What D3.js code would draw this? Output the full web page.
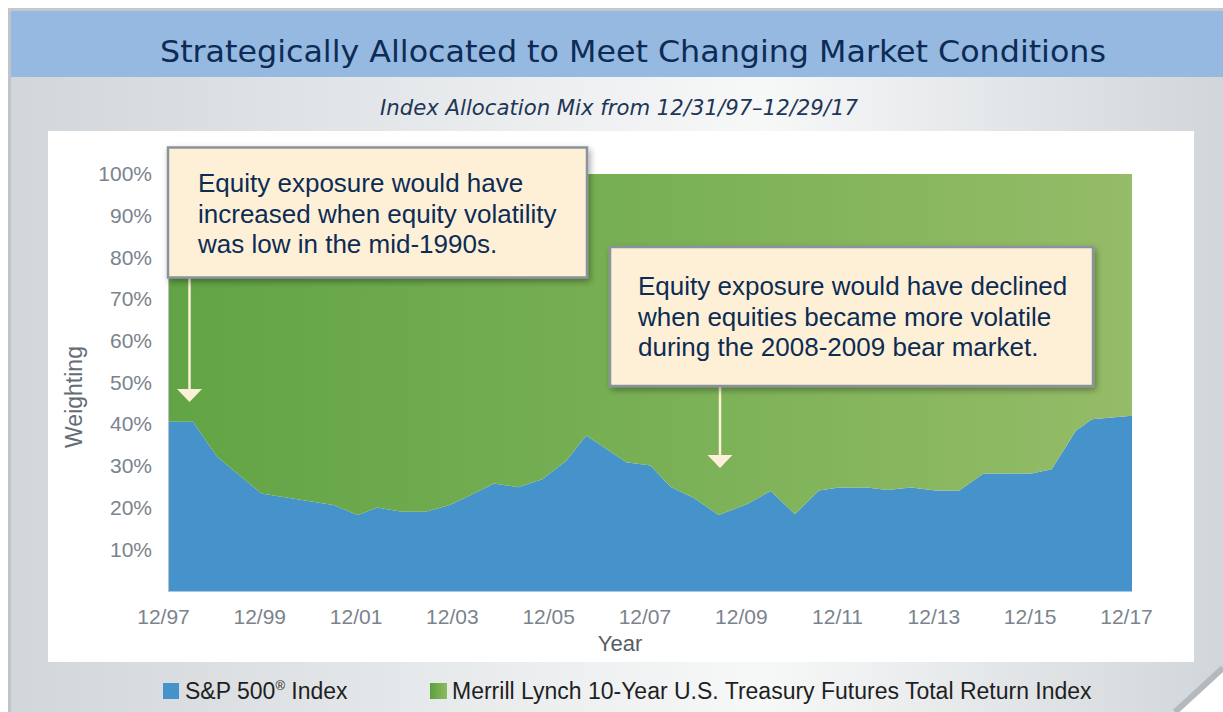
<!DOCTYPE html>
<html>
<head>
<meta charset="utf-8">
<script src="https://cdn.jsdelivr.net/npm/d3@7"></script>
<style>
  body { margin: 0; background: #fff; }
  svg { display: block; }
  .tick text { font-family: "Liberation Sans", Arial, sans-serif; }
</style>
</head>
<body>
<svg width="1223" height="712"></svg>
<script>
// allocation data (semi-annual-ish points)
var dates = ["1997-12","1998-06","1998-12","1999-11","2001-05","2001-11","2002-04","2002-10","2003-04","2003-10",
             "2004-04","2004-09","2005-03","2005-09","2006-03","2006-08","2007-06","2007-12","2008-05","2008-11",
             "2009-05","2009-12","2010-06","2010-12","2011-06","2011-11","2012-06","2012-11","2013-05","2013-11",
             "2014-05","2014-11","2015-11","2016-04","2016-10","2017-02","2017-12"];
var spWeights = [40.6,40.6,32.2,23.4,20.6,18.2,20.0,19.0,19.0,20.6,
                 23.4,25.8,24.9,26.8,31.2,37.3,30.9,30.1,25.0,22.2,
                 18.2,20.8,24.0,18.4,24.1,24.8,24.8,24.2,24.8,24.1,
                 24.1,28.2,28.2,29.2,38.4,41.2,42.0];
var tsyWeights = [59.4,59.4,67.8,76.6,79.4,81.8,80.0,81.0,81.0,79.4,
                  76.6,74.2,75.1,73.2,68.8,62.7,69.1,69.9,75.0,77.8,
                  81.8,79.2,76.0,81.6,75.9,75.2,75.2,75.8,75.2,75.9,
                  75.9,71.8,71.8,70.8,61.6,58.8,58.0];
var xTickLabels = ["12/97","12/99","12/01","12/03","12/05","12/07","12/09","12/11","12/13","12/15","12/17"];
var yTickValues = [10,20,30,40,50,60,70,80,90,100];
var seriesNames = ["S&P 500", "Merrill Lynch 10-Year U.S. Treasury Futures Total Return Index"];

var svg = d3.select("svg"),
    plot = {left: 169, right: 1132, top: 174, bottom: 591},
    textFont = '"Liberation Sans", Arial, sans-serif',
    condFont = '"DejaVu Sans Condensed", "DejaVu Sans", sans-serif';

var parseMonth = d3.timeParse("%Y-%m"),
    parseTick = d3.timeParse("%m/%y");

var data = dates.map(function(d, i) {
  return {date: parseMonth(d), sp: spWeights[i], tsy: tsyWeights[i]};
});

var defs = svg.append("defs");

var bg = defs.append("linearGradient").attr("id", "bgGrad");
bg.append("stop").attr("offset", "0%").attr("stop-color", "#d1d6da");
bg.append("stop").attr("offset", "62%").attr("stop-color", "#f7f8f8");
bg.append("stop").attr("offset", "100%").attr("stop-color", "#d1d6da");

var gg = defs.append("linearGradient").attr("id", "greenGrad");
gg.append("stop").attr("offset", "0%").attr("stop-color", "#62a445");
gg.append("stop").attr("offset", "50%").attr("stop-color", "#79b055");
gg.append("stop").attr("offset", "100%").attr("stop-color", "#95bc68");

var lg = defs.append("linearGradient").attr("id", "legGreen");
lg.append("stop").attr("offset", "0%").attr("stop-color", "#5c9f3e");
lg.append("stop").attr("offset", "100%").attr("stop-color", "#8dbb5e");

var shadow = defs.append("filter").attr("id", "shadow")
    .attr("x", "-10%").attr("y", "-10%").attr("width", "130%").attr("height", "140%");
shadow.append("feDropShadow").attr("dx", 2).attr("dy", 3).attr("stdDeviation", 3)
    .attr("flood-color", "#000").attr("flood-opacity", 0.35);

// frame
svg.append("path")
    .attr("d", "M8,8 L1223,8 L1223,672 L1178,712 L8,712 Z")
    .attr("fill", "url(#bgGrad)");
svg.append("path")
    .attr("d", "M1223,668 L1175,712")
    .attr("stroke", "#b4b9be").attr("stroke-width", 6).attr("fill", "none");
svg.append("rect").attr("x", 8).attr("y", 8).attr("width", 3).attr("height", 704).attr("fill", "#bfc4c9");
svg.append("rect").attr("x", 8).attr("y", 8).attr("width", 1215).attr("height", 3).attr("fill", "#c3c8cc");
svg.append("rect").attr("x", 11).attr("y", 11).attr("width", 1212).attr("height", 66).attr("fill", "#95b9e1");

svg.append("text")
    .attr("x", 633).attr("y", 62)
    .attr("text-anchor", "middle")
    .attr("textLength", 946).attr("lengthAdjust", "spacingAndGlyphs")
    .style("font-family", condFont).style("font-size", "30px")
    .attr("fill", "#0d2b55")
    .text("Strategically Allocated to Meet Changing Market Conditions");

svg.append("text")
    .attr("x", 619).attr("y", 115)
    .attr("text-anchor", "middle")
    .attr("textLength", 478).attr("lengthAdjust", "spacingAndGlyphs")
    .style("font-family", condFont).style("font-size", "21px").style("font-style", "italic")
    .attr("fill", "#1e3658")
    .text("Index Allocation Mix from 12/31/97\u201312/29/17");

svg.append("rect").attr("x", 48).attr("y", 131).attr("width", 1146).attr("height", 531).attr("fill", "#fff");

// scales
var x = d3.scaleTime()
    .domain([parseMonth("1997-12"), parseMonth("2017-12")])
    .range([plot.left, plot.right]);
var y = d3.scaleLinear().domain([0, 100]).range([plot.bottom, plot.top]);

var stack = d3.stack().keys(["sp", "tsy"]);
var layers = stack(data);
var fills = ["#4593ca", "url(#greenGrad)"];

var area = d3.area()
    .x(function(d) { return x(d.data.date); })
    .y0(function(d) { return y(d[0]); })
    .y1(function(d) { return y(d[1]); });

svg.selectAll(".layer")
    .data(layers)
    .enter().append("path")
    .attr("class", "layer")
    .attr("d", area)
    .attr("fill", function(d, i) { return fills[i]; });

// axis lines
svg.append("line").attr("x1", plot.left - 0.5).attr("x2", plot.left - 0.5)
    .attr("y1", plot.top - 20).attr("y2", plot.bottom + 1)
    .attr("stroke", "#b9c0c6").attr("stroke-width", 1);
svg.append("line").attr("x1", plot.left).attr("x2", plot.right)
    .attr("y1", plot.bottom + 0.5).attr("y2", plot.bottom + 0.5)
    .attr("stroke", "#a9c8e2").attr("stroke-width", 1);

var xAxis = d3.axisBottom(x)
    .tickValues(xTickLabels.map(function(t) { return parseTick(t); }))
    .tickFormat(function(d, i) { return xTickLabels[i]; })
    .tickSize(0).tickPadding(18);

var yAxis = d3.axisLeft(y)
    .tickValues(yTickValues)
    .tickFormat(function(d) { return d + "%"; })
    .tickSize(0).tickPadding(17);

var gx = svg.append("g")
    .attr("transform", "translate(0," + plot.bottom + ")")
    .call(xAxis);
gx.select(".domain").remove();
gx.selectAll("text").attr("dx", -6).style("font-size", "21px").attr("fill", "#7b838d");

var gy = svg.append("g")
    .attr("transform", "translate(" + plot.left + ",0)")
    .call(yAxis);
gy.select(".domain").remove();
gy.selectAll("text").style("font-size", "21px").attr("fill", "#7b838d");

svg.append("text")
    .attr("transform", "translate(82,397) rotate(-90)")
    .attr("text-anchor", "middle")
    .style("font-family", textFont).style("font-size", "23px")
    .attr("fill", "#646c75")
    .text("Weighting");

svg.append("text")
    .attr("x", 620).attr("y", 651)
    .attr("text-anchor", "middle")
    .style("font-family", textFont).style("font-size", "22px")
    .attr("fill", "#555c64")
    .text("Year");

// callouts
var callouts = [
  {box: [168, 147.5, 419, 130], tx: 198, ty: 192, arrowX: 189.5, arrowTo: 402,
   lines: ["Equity exposure would have", "increased when equity volatility", "was low in the mid-1990s."]},
  {box: [610, 247, 483, 139], tx: 638, ty: 295, arrowX: 720, arrowTo: 468,
   lines: ["Equity exposure would have declined", "when equities became more volatile", "during the 2008-2009 bear market."]}
];

callouts.forEach(function(c) {
  var bottom = c.box[1] + c.box[3];
  svg.append("line")
      .attr("x1", c.arrowX).attr("x2", c.arrowX)
      .attr("y1", bottom).attr("y2", c.arrowTo - 10)
      .attr("stroke", "#fdf0d8").attr("stroke-width", 2.5);
  svg.append("path")
      .attr("d", "M" + (c.arrowX - 12.5) + "," + (c.arrowTo - 13) + " L" + (c.arrowX + 12.5) + "," + (c.arrowTo - 13) +
                 " L" + c.arrowX + "," + c.arrowTo + " Z")
      .attr("fill", "#fdf0d8");
  svg.append("rect")
      .attr("x", c.box[0]).attr("y", c.box[1])
      .attr("width", c.box[2]).attr("height", c.box[3])
      .attr("fill", "#fef0d7")
      .attr("stroke", "#8a929b").attr("stroke-width", 2.5)
      .attr("filter", "url(#shadow)");
  svg.append("g").selectAll("text")
      .data(c.lines)
      .enter().append("text")
      .attr("x", c.tx)
      .attr("y", function(d, i) { return c.ty + i * 30.5; })
      .style("font-family", textFont).style("font-size", "26px")
      .attr("fill", "#0d2c54")
      .text(function(d) { return d; });
});

// legend
var legend = svg.append("g").style("font-family", textFont).style("font-size", "23px").attr("fill", "#1f1f1f");
legend.append("rect").attr("x", 163).attr("y", 683).attr("width", 16).attr("height", 16).attr("fill", "#4593ca");
var t1 = legend.append("text").attr("x", 185).attr("y", 699);
t1.append("tspan").text(seriesNames[0]);
t1.append("tspan").attr("dy", -9).style("font-size", "13px").text("\u00ae");
t1.append("tspan").attr("dy", 9).text(" Index");
legend.append("rect").attr("x", 430).attr("y", 683).attr("width", 17).attr("height", 16).attr("fill", "url(#legGreen)");
legend.append("text").attr("x", 452).attr("y", 699).text(seriesNames[1]);
</script>
</body>
</html>
